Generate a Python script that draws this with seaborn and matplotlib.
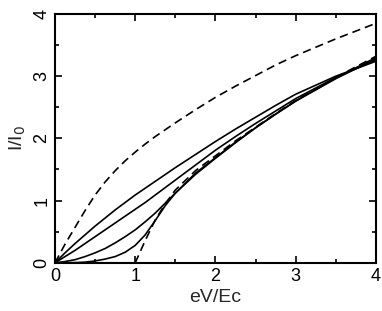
import matplotlib
matplotlib.use("Agg")
import matplotlib.pyplot as plt
import seaborn as sns
from matplotlib.ticker import MultipleLocator

# values (eV/Ec vs I/I0)
x = [0, 0.125, 0.25, 0.375, 0.5, 0.625, 0.75, 0.875, 1, 1.125, 1.25, 1.375,
     1.5, 1.75, 2, 2.25, 2.5, 2.75, 3, 3.5, 4]

upper_dashed = [0, 0.30, 0.57, 0.84, 1.09, 1.30, 1.48, 1.64, 1.78, 1.91, 2.03, 2.14,
                2.25, 2.46, 2.66, 2.84, 3.01, 3.18, 3.33, 3.60, 3.85]
solid_1 = [0, 0.16, 0.31, 0.45, 0.59, 0.72, 0.85, 0.97, 1.09, 1.20, 1.31, 1.42,
           1.53, 1.74, 1.95, 2.15, 2.34, 2.53, 2.71, 3.00, 3.24]
solid_2 = [0, 0.10, 0.20, 0.31, 0.42, 0.53, 0.64, 0.75, 0.86, 0.97, 1.09, 1.21,
           1.33, 1.57, 1.81, 2.03, 2.24, 2.44, 2.64, 2.98, 3.26]
solid_3 = [0, 0.02, 0.05, 0.10, 0.16, 0.23, 0.32, 0.42, 0.53, 0.66, 0.80, 0.96,
           1.12, 1.42, 1.68, 1.93, 2.17, 2.39, 2.60, 2.96, 3.28]
solid_4 = [0, 0, 0.003, 0.01, 0.03, 0.06, 0.10, 0.17, 0.28, 0.45, 0.68, 0.92,
           1.12, 1.44, 1.69, 1.94, 2.17, 2.39, 2.60, 2.97, 3.30]
lower_dashed = [0, 0, 0, 0, 0, 0, 0, 0, 0, 0.36, 0.69, 0.95,
                1.17, 1.48, 1.72, 1.96, 2.18, 2.40, 2.61, 2.98, 3.32]

sns.set_style("ticks")
plt.rcParams['font.family'] = ['Liberation Sans', 'DejaVu Sans']

fig = plt.figure(figsize=(3.82, 3.11), dpi=100)
ax = fig.add_axes([0.144, 0.155, 0.84, 0.80])

for ys, ls in [(upper_dashed, (0, (5, 3))), (solid_1, '-'), (solid_2, '-'),
               (solid_3, '-'), (solid_4, '-'), (lower_dashed, (0, (5, 3)))]:
    sns.lineplot(x=x, y=ys, ax=ax, color='black', linewidth=1.2, linestyle=ls)

ax.set_xlim(0, 4)
ax.set_ylim(0, 4)
ax.xaxis.set_major_locator(MultipleLocator(1))
ax.xaxis.set_minor_locator(MultipleLocator(0.5))
ax.yaxis.set_major_locator(MultipleLocator(1))
ax.yaxis.set_minor_locator(MultipleLocator(0.5))
ax.tick_params(which='both', direction='in', top=True, right=True,
               width=1.2, colors='black', labelsize=13)
ax.tick_params(which='major', length=5)
ax.tick_params(which='minor', length=3)
for lab in ax.get_yticklabels():
    lab.set_rotation(90)
    lab.set_va('center')
for sp in ax.spines.values():
    sp.set_linewidth(1.5)
    sp.set_color('black')

ax.set_xlabel('eV/Ec', fontsize=14, labelpad=3)
ax.set_ylabel('I/I$_0$', fontsize=14, labelpad=4)

fig.savefig('out.png', dpi=100)
